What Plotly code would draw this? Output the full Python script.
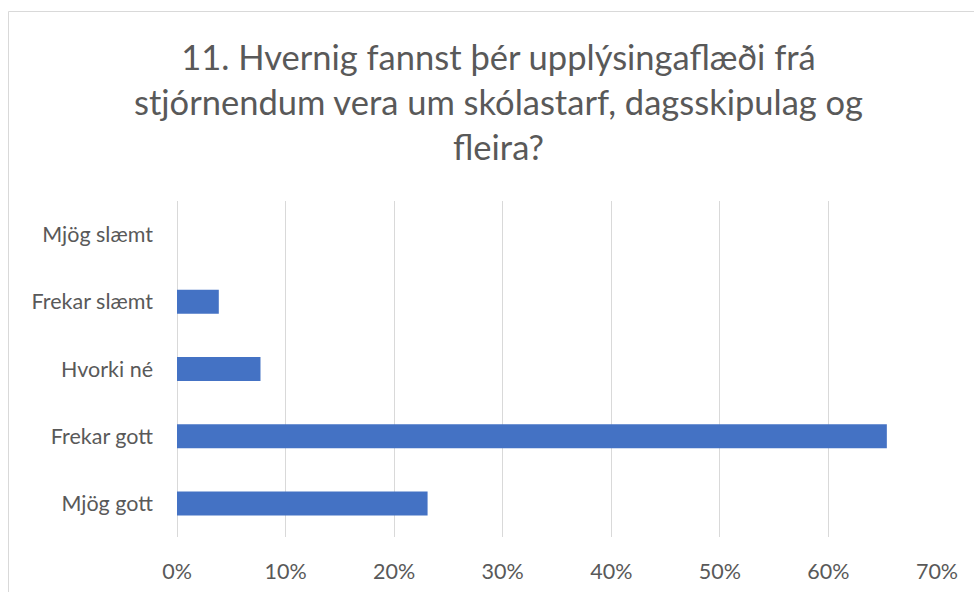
import plotly.graph_objects as go

categories = ["Mjög slæmt", "Frekar slæmt", "Hvorki né", "Frekar gott", "Mjög gott"]
values = [0.0, 0.0385, 0.0769, 0.6538, 0.2308]
x_ticks = [0, 0.1, 0.2, 0.3, 0.4, 0.5, 0.6, 0.7]
x_tick_labels = ["0%", "10%", "20%", "30%", "40%", "50%", "60%", "70%"]
title_text = "11. Hvernig fannst þér upplýsingaflæði frá<br>stjórnendum vera um skólastarf, dagsskipulag og<br>fleira?"

W, H = 974, 592
L, R, T, B = 177, 937, 201, 537
pw, ph = R - L, B - T

fig = go.Figure(go.Bar(
    x=values, y=categories, orientation="h",
    marker=dict(color="#4472C4", line=dict(width=0)),
    hoverinfo="x+y",
))

fig.add_shape(type="rect", xref="paper", yref="paper",
              x0=(8.5 - L) / pw, x1=(988 - L) / pw,
              y0=(B - 600) / ph, y1=(B - 11.5) / ph,
              line=dict(color="#D9D9D9", width=1), layer="below")

fig.add_annotation(text=title_text, xref="paper", yref="paper",
                   x=(498 - L) / pw, y=(B - 102) / ph,
                   xanchor="center", yanchor="middle", showarrow=False,
                   align="center",
                   font=dict(family="Lato", size=34.5, color="#595959"))

fig.update_layout(
    width=W, height=H,
    margin=dict(l=L, r=W - R, t=T, b=H - B, pad=0, autoexpand=False),
    paper_bgcolor="white", plot_bgcolor="white",
    font=dict(family="Lato", color="#595959", size=21.5),
    bargap=0.643,
    showlegend=False,
    xaxis=dict(range=[0, 0.7], tickvals=x_ticks, ticktext=x_tick_labels,
               showgrid=True, gridcolor="#D9D9D9", gridwidth=1,
               zeroline=True, zerolinecolor="#D9D9D9", zerolinewidth=1,
               showline=False, ticks="", ticklabelstandoff=19,
               automargin=False, fixedrange=True),
    yaxis=dict(autorange="reversed", showgrid=False, zeroline=False,
               showline=False, ticks="", ticklabelstandoff=23,
               automargin=False, fixedrange=True),
)

fig.write_html("out.html", config={"displayModeBar": False},
               post_script="document.body.style.margin='0px';document.body.style.padding='0px';")
